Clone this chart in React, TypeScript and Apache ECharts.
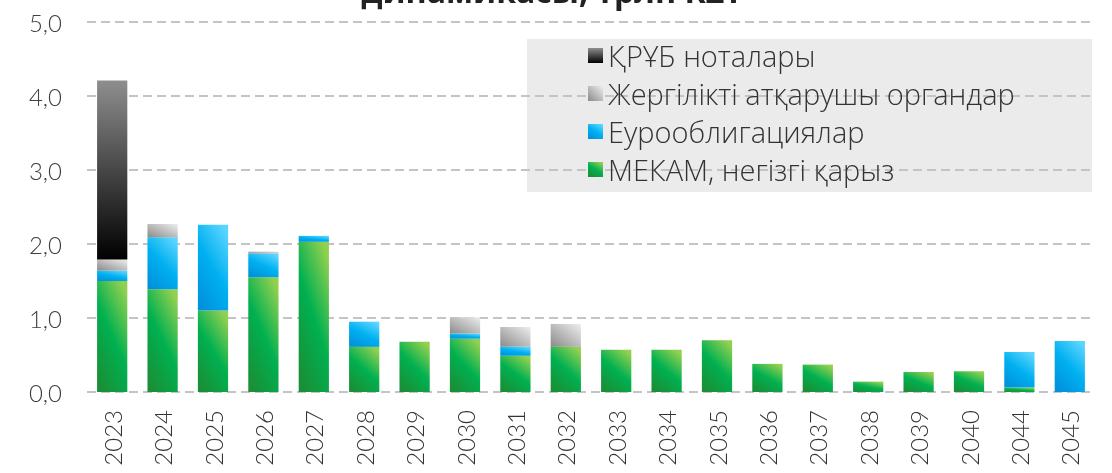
import React, { useEffect, useRef } from "react";
import * as echarts from "echarts";

const years = ["2023","2024","2025","2026","2027","2028","2029","2030","2031","2032","2033","2034","2035","2036","2037","2038","2039","2040","2044","2045"];
const mekam = [1.50,1.39,1.10,1.55,2.03,0.61,0.68,0.72,0.49,0.61,0.57,0.57,0.70,0.38,0.37,0.14,0.27,0.28,0.06,0];
const euro = [0.14,0.70,1.16,0.32,0.08,0.34,0,0.07,0.12,0,0,0,0,0,0,0,0,0,0.48,0.69];
const local = [0.15,0.18,0,0.03,0,0,0,0.22,0.27,0.31,0,0,0,0,0,0,0,0,0,0];
const nbrk = [2.42,0,0,0,0,0,0,0,0,0,0,0,0,0,0,0,0,0,0,0];
const names = ["МЕКАМ, негізгі қарыз","Еурооблигациялар","Жергілікті атқарушы органдар","ҚРҰБ ноталары"];
const titleText = "динамикасы, трлн KZT";

const FONT = "Lato";
const LEGEND_FONT = "'Open Sans'";

export default function App() {
  const ref = useRef<HTMLDivElement>(null);
  useEffect(() => {
    if (!ref.current) return;
    const chart = echarts.init(ref.current, null, { renderer: "svg" });
    const G = echarts.graphic.LinearGradient;
    const green = new G(0.8, 0, 0.2, 1, [
      { offset: 0, color: "#92D050" },
      { offset: 0.5, color: "#00B050" },
      { offset: 1, color: "#1A8F36" },
    ]);
    const blue = new G(0.8, 0, 0.2, 1, [
      { offset: 0, color: "#5AD5FF" },
      { offset: 0.5, color: "#00B0F0" },
      { offset: 1, color: "#0092DC" },
    ]);
    const gray = new G(1, 0, 0, 1, [
      { offset: 0, color: "#EEEEEE" },
      { offset: 1, color: "#8A8A8A" },
    ]);
    const black = new G(0, 0, 0, 1, [
      { offset: 0, color: "#8E8E8E" },
      { offset: 1, color: "#000000" },
    ]);
    const colors = [green, blue, gray, black];
    const datas = [mekam, euro, local, nbrk];
    chart.setOption({
      animation: false,
      textStyle: { fontFamily: FONT },
      graphic: [
        {
          type: "rect",
          z: -10,
          shape: { x: 527, y: 39, width: 565, height: 153 },
          style: { fill: "#EBEBEB" },
          silent: true,
        },
        {
          type: "text",
          x: 552,
          y: -10,
          style: {
            text: titleText,
            textAlign: "center",
            textVerticalAlign: "middle",
            font: "bold 32px 'Open Sans'",
            fill: "#222222",
          },
        },
      ],
      legend: {
        orient: "vertical",
        left: 583,
        top: 36,
        itemWidth: 15,
        itemHeight: 15,
        itemGap: 9,
        icon: "rect",
        data: [names[3], names[2], names[1], names[0]],
        textStyle: { fontSize: 29, fontWeight: 300, color: "#333333", fontFamily: LEGEND_FONT },
      },
      grid: { left: 87, right: 17, top: 22, bottom: 81, containLabel: false },
      xAxis: {
        type: "category",
        data: years,
        axisLine: { show: false },
        axisTick: { show: false },
        axisLabel: { rotate: 90, fontSize: 24, fontWeight: 300, color: "#333333", margin: 18, fontFamily: FONT },
      },
      yAxis: {
        type: "value",
        min: 0,
        max: 5,
        interval: 1,
        axisLine: { show: false },
        axisTick: { show: false },
        axisLabel: {
          fontSize: 24,
          fontWeight: 300,
          color: "#404040",
          margin: 25,
          fontFamily: FONT,
          formatter: (v: number) => v.toFixed(1).replace(".", ","),
        },
        splitLine: { lineStyle: { color: "#C4C4C4", width: 2, type: [9, 5] } },
      },
      series: datas.map((d, i) => ({
        name: names[i],
        type: "bar",
        stack: "total",
        barWidth: "60%",
        data: d,
        itemStyle: { color: colors[i] },
      })),
    });
    return () => chart.dispose();
  }, []);
  return <div ref={ref} style={{ position: "fixed", left: 0, top: 0, width: 1112, height: 473 }} />;
}
